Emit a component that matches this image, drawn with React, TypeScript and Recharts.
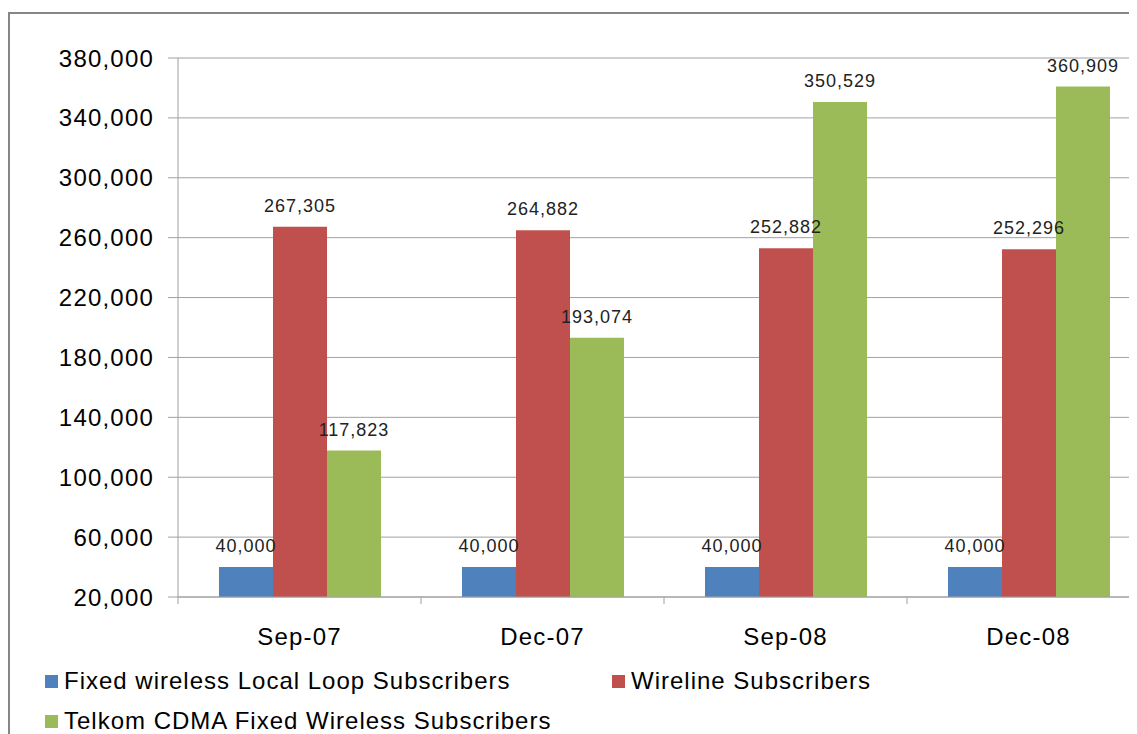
import React from 'react';
import { BarChart, Bar, XAxis, YAxis, CartesianGrid, Legend, LabelList } from 'recharts';

const quarters = ['Sep-07', 'Dec-07', 'Sep-08', 'Dec-08'];
const fixedWirelessLoop = [40000, 40000, 40000, 40000];
const wireline = [267305, 264882, 252882, 252296];
const telkomCdma = [117823, 193074, 350529, 360909];
const yTicks = [20000, 60000, 100000, 140000, 180000, 220000, 260000, 300000, 340000, 380000];

const series = [
  { key: 'fwll', name: 'Fixed wireless Local Loop Subscribers', color: '#4F81BD' },
  { key: 'wireline', name: 'Wireline Subscribers', color: '#C0504D' },
  { key: 'cdma', name: 'Telkom CDMA Fixed Wireless Subscribers', color: '#9BBB59' },
];

const data = quarters.map((q, i) => ({
  quarter: q,
  fwll: fixedWirelessLoop[i],
  wireline: wireline[i],
  cdma: telkomCdma[i],
}));

const fmt = (v: any) => Number(v).toLocaleString('en-US');

const X_TICK_MARGIN = 31;

// category label plus an excel-style tick mark on the left edge of each band
const QuarterTick = (props: any) => {
  const { x, y, payload, width, visibleTicksCount } = props;
  const half = payload && payload.offset ? payload.offset : width / (visibleTicksCount || 4) / 2;
  const axisY = y - X_TICK_MARGIN;
  return (
    <g>
      <line x1={x - half} x2={x - half} y1={axisY} y2={axisY + 7} stroke="#a0a0a0" />
      <text x={x} y={y} dy="0.71em" textAnchor="middle" fontSize={24} letterSpacing={1.2} fill="#000">
        {payload.value}
      </text>
    </g>
  );
};

// legend slots, excel style: two on the first row, one on the second
const legendSlots = [
  { left: 37, row: 0 },
  { left: 604, row: 0 },
  { left: 37, row: 1 },
];

const ExcelLegend = () => (
  <div style={{ position: 'relative', width: 1000, height: 80 }}>
    {series.map((s, i) => {
      const slot = legendSlots[i];
      return (
        <div key={s.key}>
          <div
            style={{
              position: 'absolute',
              left: slot.left,
              top: 21 + slot.row * 40,
              width: 13,
              height: 13,
              background: s.color,
            }}
          />
          <div
            style={{
              position: 'absolute',
              left: slot.left + 19,
              top: 14 + slot.row * 40,
              fontSize: 24,
              lineHeight: '26px',
              letterSpacing: 1,
              color: '#000',
              whiteSpace: 'nowrap',
            }}
          >
            {s.name}
          </div>
        </div>
      );
    })}
  </div>
);

export default function App() {
  return (
    <div
      style={{
        position: 'relative',
        width: 1129,
        height: 726,
        overflow: 'hidden',
        fontFamily: '"Liberation Sans", Arial, sans-serif',
        background: '#fff',
      }}
    >
      <div
        style={{
          position: 'absolute',
          left: 0,
          top: 4,
          width: 2000,
          height: 2000,
          borderLeft: '2px solid #868686',
          borderTop: '2px solid #868686',
        }}
      />
      <div style={{ position: 'absolute', left: 0, top: 0 }}>
        <BarChart
          width={1180}
          height={726}
          data={data}
          margin={{ top: 50, right: 38, left: 0, bottom: 0 }}
          barGap={0}
          barSize={54}
        >
          <CartesianGrid vertical={false} stroke="#a0a0a0" />
          <XAxis
            dataKey="quarter"
            axisLine={{ stroke: '#a0a0a0' }}
            tickLine={false}
            tickSize={0}
            tickMargin={X_TICK_MARGIN}
            height={57}
            tick={<QuarterTick />}
          />
          <YAxis
            width={170}
            domain={[20000, 380000]}
            ticks={yTicks}
            tickFormatter={fmt}
            axisLine={{ stroke: '#a0a0a0' }}
            tickLine={{ stroke: '#a0a0a0' }}
            tickSize={10}
            tickMargin={14}
            tick={{ fontSize: 24, fill: '#000', letterSpacing: 1.2 }}
          />
          <Legend verticalAlign="bottom" content={<ExcelLegend />} wrapperStyle={{ left: 0, width: 1000, height: 80 }} />
          {series.map((s) => (
            <Bar key={s.key} dataKey={s.key} name={s.name} fill={s.color} isAnimationActive={false}>
              <LabelList
                dataKey={s.key}
                position="top"
                offset={15}
                formatter={fmt}
                style={{ fontSize: 18, fill: '#222', letterSpacing: 1 }}
              />
            </Bar>
          ))}
        </BarChart>
      </div>
    </div>
  );
}
